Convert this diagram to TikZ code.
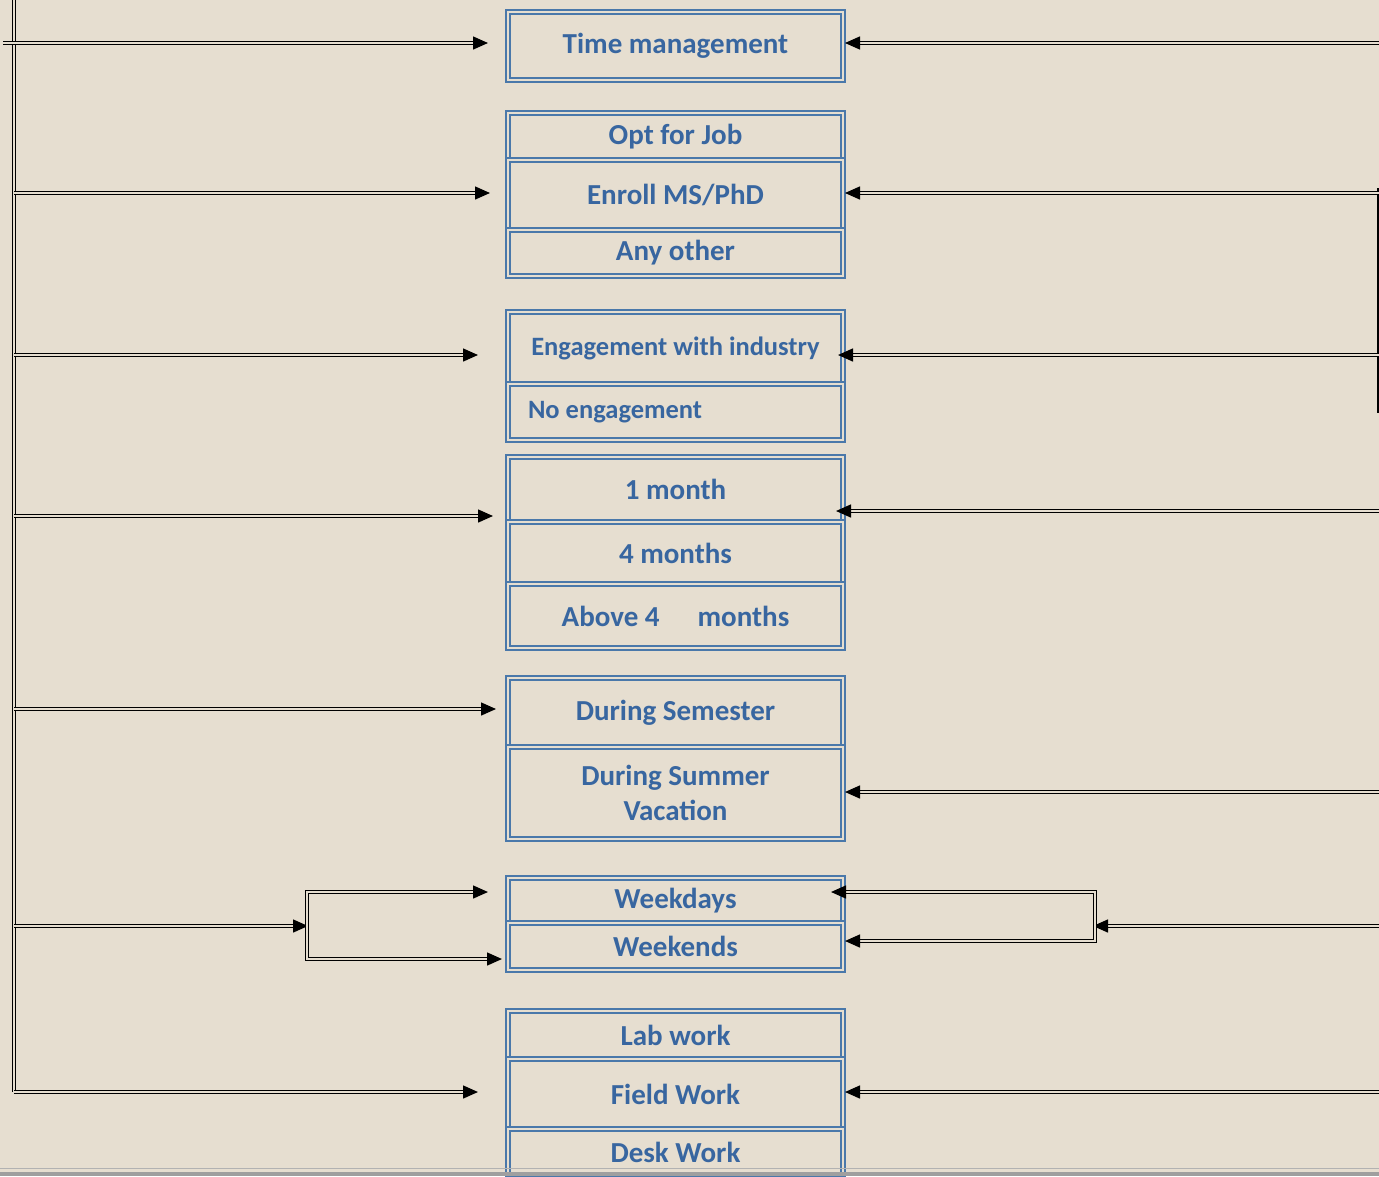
\documentclass[tikz,border=0pt]{standalone}
\usepackage{fontspec}
\setmainfont{Carlito}
\usetikzlibrary{arrows.meta,calc}
\definecolor{bg}{HTML}{E6DED0}
\definecolor{boxblue}{HTML}{4A78AA}
\definecolor{txtblue}{HTML}{3866A0}
\tikzset{
  cell/.style={draw=boxblue, double=bg, double distance=2.2pt, line width=1.7pt,
    minimum width=335pt, inner sep=0pt, text=txtblue,
    font=\bfseries\fontsize{29}{35}\selectfont, align=center},
  conn/.style={draw=black, double=bg, double distance=1.6pt, line width=1.45pt},
  tipr/.style={-{Triangle[length=15pt,width=13pt]}},
}
\begin{document}
\begin{tikzpicture}[x=1pt,y=-1pt]
\useasboundingbox (0,0) rectangle (1379,1176);
\fill[bg] (0,0) rectangle (1379,1176);

% cells
\node[cell, minimum height=68pt] (tm) at (675.5,46) {Time management};
\node[cell, minimum height=47pt] (job) at (675.5,136.5) {Opt for Job};
\node[cell, minimum height=70pt] (ms) at (675.5,195) {Enroll MS/PhD};
\node[cell, minimum height=46pt] (oth) at (675.5,253) {Any other};
\node[cell, minimum height=72pt, font=\bfseries\fontsize{26.5}{32}\selectfont] (eng) at (675.5,348) {Engagement with industry};
\node[cell, minimum height=56pt, font=\bfseries\fontsize{26.5}{32}\selectfont] (noe) at (675.5,412) {\makebox[295pt][l]{No\kern6pt engagement}};
\node[cell, minimum height=65pt] (m1) at (675.5,489.5) {1 month};
\node[cell, minimum height=62pt] (m4) at (675.5,553) {4 months};
\node[cell, minimum height=64pt] (m5) at (675.5,616) {Above 4\hspace{38pt}months};
\node[cell, minimum height=69pt] (sem) at (675.5,712.5) {During Semester};
\node[cell, minimum height=92pt] (sum) at (675.5,793) {During Summer\\Vacation};
\node[cell, minimum height=45pt] (wd) at (675.5,900.5) {Weekdays};
\node[cell, minimum height=47pt] (we) at (675.5,946.5) {Weekends};
\node[cell, minimum height=48pt] (lab) at (675.5,1035) {Lab work};
\node[cell, minimum height=70pt] (fw) at (675.5,1094) {Field Work};
\node[cell, minimum height=46pt] (dw) at (675.5,1152) {Desk Work};

% left side coordinates
\coordinate (ltop) at (14,-6);
\coordinate (lbot) at (14,1092);
\coordinate (l1s) at (3,43);   \coordinate (l1t) at (488,43);
\coordinate (l2s) at (14,193); \coordinate (l2t) at (490,193);
\coordinate (l3s) at (14,355); \coordinate (l3t) at (478,355);
\coordinate (l4s) at (14,516); \coordinate (l4t) at (493,516);
\coordinate (l5s) at (14,709); \coordinate (l5t) at (496,709);
\coordinate (l6s) at (14,926); \coordinate (l6t) at (308,926);
\coordinate (lb1) at (307,892); \coordinate (lb1t) at (488,892);
\coordinate (lb2) at (307,959); \coordinate (lb2t) at (502,959);
\coordinate (l7t) at (478,1092);

\draw[conn] (ltop) -- (lbot);
\draw[conn,tipr] (l1s) -- (l1t);
\draw[conn,tipr] (l2s) -- (l2t);
\draw[conn,tipr] (l3s) -- (l3t);
\draw[conn,tipr] (l4s) -- (l4t);
\draw[conn,tipr] (l5s) -- (l5t);
\draw[conn,tipr] (l6s) -- (l6t);
\draw[conn,{Triangle[length=15pt,width=13pt]}-{Triangle[length=15pt,width=13pt]}] (lb1t) -- (lb1) -- (lb2) -- (lb2t);
\draw[conn,tipr] (lbot) -- (l7t);

% right side coordinates
\coordinate (r1s) at (1390,43);  \coordinate (r1t) at (845,43);
\coordinate (r2s) at (1390,193); \coordinate (r2t) at (845,193);
\coordinate (r3s) at (1390,355); \coordinate (r3t) at (838,355);
\coordinate (r4s) at (1390,511); \coordinate (r4t) at (836,511);
\coordinate (r5s) at (1390,792); \coordinate (r5t) at (845,792);
\coordinate (r6s) at (1390,926); \coordinate (r6t) at (1093,926);
\coordinate (rb1) at (1095,892); \coordinate (rb1t) at (831,892);
\coordinate (rb2) at (1095,941); \coordinate (rb2t) at (845,941);
\coordinate (r7s) at (1390,1092); \coordinate (r7t) at (845,1092);
\coordinate (rvt) at (1378,188); \coordinate (rvb) at (1378,413);

\draw[black, line width=1.4pt] (rvt) -- (rvb);
\draw[conn,tipr] (r1s) -- (r1t);
\draw[conn,tipr] (r2s) -- (r2t);
\draw[conn,tipr] (r3s) -- (r3t);
\draw[conn,tipr] (r4s) -- (r4t);
\draw[conn,tipr] (r5s) -- (r5t);
\draw[conn,tipr] (r6s) -- (r6t);
\draw[conn,{Triangle[length=15pt,width=13pt]}-{Triangle[length=15pt,width=13pt]}] (rb1t) -- (rb1) -- (rb2) -- (rb2t);
\draw[conn,tipr] (r7s) -- (r7t);

% bottom band
\fill[gray!75] (0,1171.5) rectangle (1379,1176);
\draw[gray!60, line width=1pt] (0,1168.5) -- (1379,1168.5);
\end{tikzpicture}
\end{document}
